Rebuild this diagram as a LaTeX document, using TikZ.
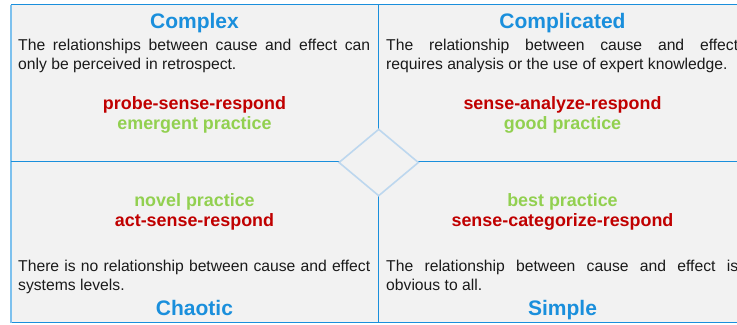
\documentclass[tikz,border=0pt]{standalone}
\usepackage{fontspec}
\setmainfont{Liberation Sans}
\usetikzlibrary{shapes.geometric}
\definecolor{titleblue}{HTML}{1A8FDC}
\definecolor{lineblue}{HTML}{1A8FDC}
\definecolor{edgeblue}{HTML}{7DC1EE}
\definecolor{diablue}{HTML}{BDD7EE}
\definecolor{redtxt}{HTML}{C00000}
\definecolor{greentxt}{HTML}{92D050}
\definecolor{bgray}{HTML}{F2F2F2}
\definecolor{bodytxt}{HTML}{1A1A1A}
\tikzset{
  titletxt/.style={inner sep=0pt, anchor=base, text=titleblue, font=\fontsize{21bp}{25bp}\selectfont\bfseries},
  redlbl/.style={inner sep=0pt, anchor=base, text=redtxt, font=\fontsize{17.9bp}{21bp}\selectfont\bfseries},
  greenlbl/.style={inner sep=0pt, anchor=base, text=greentxt, font=\fontsize{17.9bp}{21bp}\selectfont\bfseries},
  bodybox/.style={inner sep=0pt, anchor=base west, text=bodytxt, font=\fontsize{15.7bp}{19bp}\selectfont},
  divline/.style={draw=lineblue, line width=1.2bp},
}
\newcommand{\bodypar}[1]{\parbox[t]{352bp}{\fontsize{15.7bp}{19bp}\selectfont\hyphenpenalty=10000\exhyphenpenalty=10000 #1}}
\begin{document}
\begin{tikzpicture}[x=1bp,y=-1bp]
\useasboundingbox (0,0) rectangle (737,324);
\begin{scope}
\clip (0,0) rectangle (737,324);
\fill[bgray] (11,4) rectangle (750,323);
% borders
\coordinate (tl) at (11,4.5);
\coordinate (tr) at (750,4.5);
\coordinate (bl) at (11,322.6);
\coordinate (br) at (750,322.6);
\draw[draw=lineblue, line width=1.6bp] (tl) -- (tr);
\draw[draw=lineblue, line width=1.6bp] (bl) -- (br);
\draw[draw=edgeblue, line width=2bp] (tl) -- (bl);
% dividers
\coordinate (vt) at (378.7,4.5);
\coordinate (vb) at (378.7,322.6);
\coordinate (hl) at (11,161.5);
\coordinate (hr) at (750,161.5);
\draw[divline] (vt) -- (vb);
\draw[divline] (hl) -- (hr);
% center diamond
\node[diamond, draw=diablue, fill=bgray, line width=1.6bp, inner sep=0pt,
      minimum width=80bp, minimum height=67bp] (dia) at (378.7,162.5) {};

% Complex
\node[titletxt] (complexT) at (194.5,28.4) {Complex};
\node[bodybox] (complexB) at (18,50.3) {\bodypar{The relationships between cause and effect can\linebreak only be perceived in retrospect.}};
\node[redlbl] (complexR) at (194.5,109.5) {probe-sense-respond};
\node[greenlbl] (complexG) at (194.5,129.5) {emergent practice};

% Complicated
\node[titletxt] (complT) at (562.5,28.4) {Complicated};
\node[bodybox] (complB) at (386,50.3) {\bodypar{The relationship between cause and effect\linebreak requires analysis or the use of expert knowledge.}};
\node[redlbl] (complR) at (562.5,109.5) {sense-analyze-respond};
\node[greenlbl] (complG) at (562.5,129.5) {good practice};

% Chaotic
\node[greenlbl] (chaosG) at (194.5,206.8) {novel practice};
\node[redlbl] (chaosR) at (194.5,226.8) {act-sense-respond};
\node[bodybox] (chaosB) at (18,271.2) {\bodypar{There is no relationship between cause and effect\linebreak systems levels.}};
\node[titletxt] (chaosT) at (194.5,315.2) {Chaotic};

% Simple
\node[greenlbl] (simpleG) at (562.5,206.8) {best practice};
\node[redlbl] (simpleR) at (562.5,226.8) {sense-categorize-respond};
\node[bodybox] (simpleB) at (386,271.2) {\bodypar{The relationship between cause and effect is\linebreak obvious to all.}};
\node[titletxt] (simpleT) at (562.5,315.2) {Simple};
\end{scope}
\end{tikzpicture}
\end{document}
